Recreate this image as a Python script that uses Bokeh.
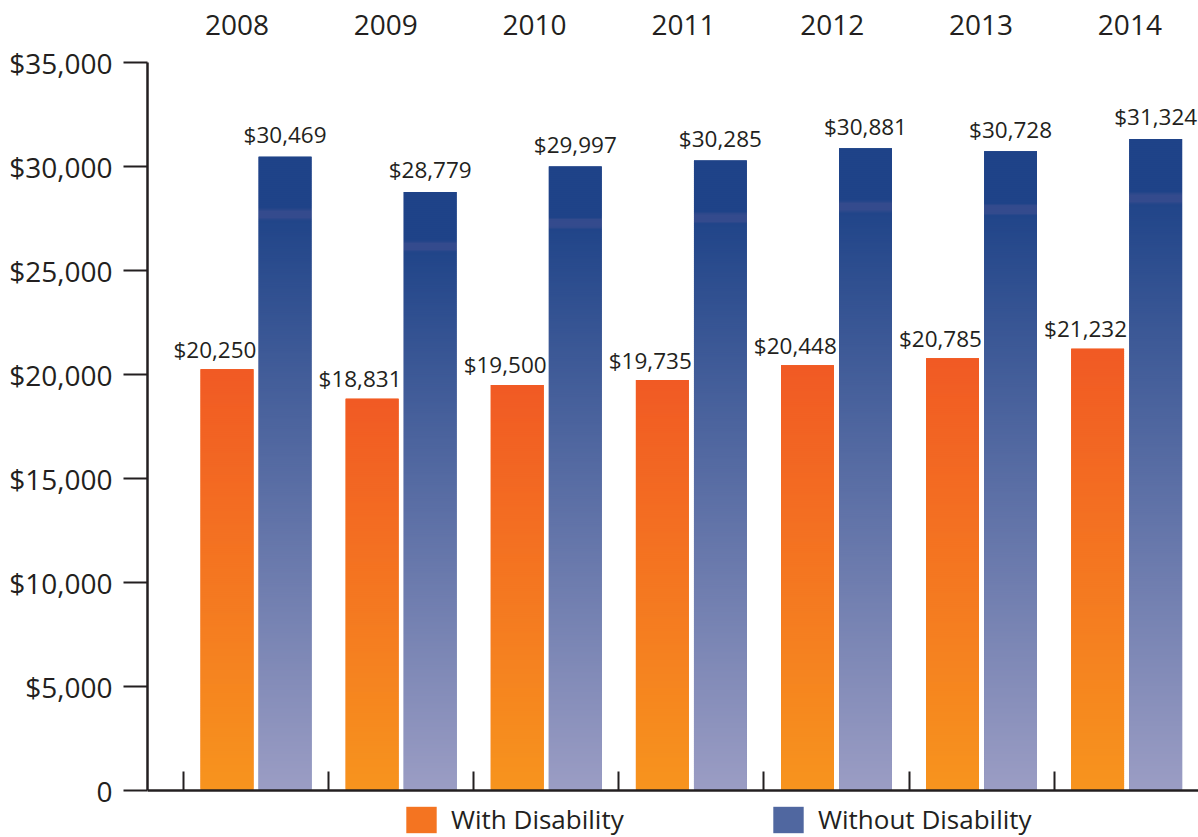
from bokeh.plotting import figure
from bokeh.models import (Range1d, LinearAxis, FixedTicker, ColumnDataSource,
                          Legend, LegendItem)
from bokeh.core.properties import value
from bokeh.embed import file_html
from bokeh.resources import INLINE

# ---------------- data ----------------
years = ["2008", "2009", "2010", "2011", "2012", "2013", "2014"]
with_disability = [20250, 18831, 19500, 19735, 20448, 20785, 21232]
without_disability = [30469, 28779, 29997, 30285, 30881, 30728, 31324]
y_ticks = [0, 5000, 10000, 15000, 20000, 25000, 30000, 35000]
y_tick_labels = ["0", "$5,000", "$10,000", "$15,000", "$20,000", "$25,000", "$30,000", "$35,000"]
series_names = ["With Disability", "Without Disability"]

# ---------------- style ----------------
FONT = value("Open Sans")
TXT = "#231F20"
ORANGE_STOPS = [(0.0, (247, 148, 30)), (1.0, (241, 90, 36))]
BLUE_STOPS = [(0.0, (155, 157, 196)), (0.90, (33, 69, 137)), (0.903, (52, 75, 141)),
              (0.915, (52, 75, 141)), (0.918, (31, 67, 136)), (1.0, (31, 67, 136))]
Y_MAX = 35000
PLOT_PX = 728                      # pixels between 0 and Y_MAX
Y_MIN = -Y_MAX * 47 / PLOT_PX      # room below the axis for the legend
SLICE = 2 * Y_MAX / PLOT_PX        # gradient step = 2 screen pixels

p = figure(width=1198, height=837, output_backend="svg", toolbar_location=None,
           x_range=Range1d(-0.248, 6.995), y_range=Range1d(Y_MIN, Y_MAX),
           min_border_left=147, min_border_right=0, min_border_top=62,
           min_border_bottom=0, x_axis_type=None, y_axis_type=None)
p.outline_line_color = None
p.xgrid.visible = False
p.ygrid.visible = False
p.background_fill_color = "white"
p.border_fill_color = "white"


def color_at(stops, t):
    for (t0, c0), (t1, c1) in zip(stops[:-1], stops[1:]):
        if t <= t1:
            f = 0 if t1 == t0 else (t - t0) / (t1 - t0)
            return "#%02x%02x%02x" % tuple(int(round(a + (b - a) * f)) for a, b in zip(c0, c1))
    return "#%02x%02x%02x" % stops[-1][1]


def gradient_source(vals, offset, width, stops):
    # overlapping slices (each covers two steps) so no seams show between them
    d = dict(left=[], right=[], bottom=[], top=[], color=[])
    for i, v in enumerate(vals):
        b = 0.0
        while b < v:
            t = min(v, b + 2 * SLICE)
            d["left"].append(i + offset - width / 2)
            d["right"].append(i + offset + width / 2)
            d["bottom"].append(b)
            d["top"].append(t)
            d["color"].append(color_at(stops, min(v, b + SLICE / 2) / v))
            b += SLICE
    return ColumnDataSource(d)


OFF_W, OFF_B, BAR_W = 0.300, 0.700, 0.364
xs = list(range(len(years)))

# base bars (solid mid tone, also used for the legend swatches)
base_w = p.vbar(x=[i + OFF_W for i in xs], top=with_disability, width=BAR_W,
                fill_color=color_at(ORANGE_STOPS, 0.55), line_color=None)
base_b = p.vbar(x=[i + OFF_B for i in xs], top=without_disability, width=BAR_W,
                fill_color=color_at(BLUE_STOPS, 0.55), line_color=None)

# gradient overlay
src_w = gradient_source(with_disability, OFF_W, BAR_W, ORANGE_STOPS)
src_b = gradient_source(without_disability, OFF_B, BAR_W, BLUE_STOPS)
p.quad(left="left", right="right", bottom="bottom", top="top", fill_color="color",
       line_color=None, source=src_w)
p.quad(left="left", right="right", bottom="bottom", top="top", fill_color="color",
       line_color=None, source=src_b)

# value labels
lab_w = ColumnDataSource(dict(x=[i + OFF_W + BAR_W / 2 for i in xs], y=with_disability,
                              t=["${:,}".format(v) for v in with_disability]))
lab_b = ColumnDataSource(dict(x=[i + OFF_B for i in xs], y=without_disability,
                              t=["${:,}".format(v) for v in without_disability]))
p.text(x="x", y="y", text="t", source=lab_w, text_font=FONT, text_font_size="22.5px",
       text_color=TXT, text_align="right", text_baseline="alphabetic",
       x_offset=3, y_offset=-20)
p.text(x="x", y="y", text="t", source=lab_b, text_font=FONT, text_font_size="22.5px",
       text_color=TXT, text_align="center", text_baseline="alphabetic",
       x_offset=0, y_offset=-22)

# y axis
yax = LinearAxis(ticker=FixedTicker(ticks=y_ticks), bounds=(0, Y_MAX),
                 major_label_overrides={t: l for t, l in zip(y_ticks, y_tick_labels)})
yax.axis_line_color = TXT
yax.axis_line_width = 2.5
yax.major_tick_line_color = TXT
yax.major_tick_line_width = 2
yax.major_tick_out = 24
yax.major_tick_in = 0
yax.minor_tick_line_color = None
yax.major_label_standoff = 11
yax.major_label_text_font = "Open Sans"
yax.major_label_text_font_size = "28px"
yax.major_label_text_color = TXT
p.add_layout(yax, "left")

# x axis at y = 0 (category separators)
sep_ticks = list(range(len(years) + 1))
xax = LinearAxis(ticker=FixedTicker(ticks=sep_ticks), fixed_location=0,
                 major_label_overrides={t: "" for t in sep_ticks})
xax.axis_line_color = TXT
xax.axis_line_width = 2.5
xax.major_tick_line_color = TXT
xax.major_tick_line_width = 2
xax.major_tick_in = 19
xax.major_tick_out = 0
xax.minor_tick_line_color = None
xax.major_label_standoff = 0
p.add_layout(xax, "below")

# year labels on top
p.extra_x_ranges = {"yr": Range1d(-0.601, 6.461)}
tax = LinearAxis(x_range_name="yr", ticker=FixedTicker(ticks=xs),
                 major_label_overrides={i: y for i, y in zip(xs, years)})
tax.axis_line_color = None
tax.major_tick_line_color = None
tax.minor_tick_line_color = None
tax.major_tick_out = 0
tax.major_tick_in = 0
tax.major_label_standoff = 28
tax.major_label_text_font = "Open Sans"
tax.major_label_text_font_size = "28px"
tax.major_label_text_color = TXT
p.add_layout(tax, "above")

# legend (inside the frame, below the zero line)
legend = Legend(items=[LegendItem(label=series_names[0], renderers=[base_w]),
                       LegendItem(label=series_names[1], renderers=[base_b])],
                orientation="horizontal", location=(255, 0),
                glyph_width=38, glyph_height=33, label_standoff=11, label_width=318,
                spacing=0, padding=0, margin=0, border_line_color=None,
                background_fill_alpha=0, label_text_font="Open Sans",
                label_text_font_size="26px", label_text_color=TXT)
p.add_layout(legend, "center")

open("out.html", "w").write(file_html(p, INLINE))
